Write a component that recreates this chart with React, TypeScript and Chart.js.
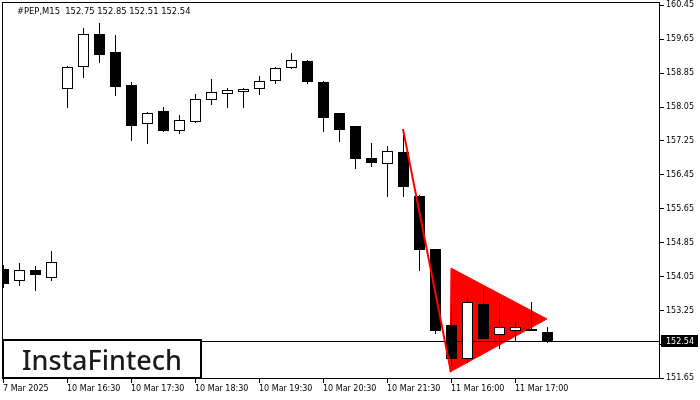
import React, { useEffect, useRef } from "react";
import { Chart, registerables } from "chart.js";

Chart.register(...registerables);

// ---- data ----
const chartTitle = "#PEP,M15  152.75 152.85 152.51 152.54";
const brandText = "InstaFintech";

const opens = [
  154.24, 153.98, 154.21, 154.05, 158.5, 159.01, 159.77, 159.34, 158.57, 157.67,
  157.96, 157.51, 157.72, 158.24, 158.38, 158.43, 158.5, 158.69, 158.99, 159.13,
  158.64, 157.91, 157.6, 156.85, 156.73, 156.99, 155.96, 154.69, 152.9, 152.12,
  153.41, 152.69, 152.8, 152.8, 152.75,
];
const highs = [
  154.33, 154.36, 154.31, 154.66, 159.01, 159.91, 160.03, 159.74, 158.64, 157.93,
  158.05, 157.86, 158.36, 158.71, 158.5, 158.49, 158.78, 158.99, 159.32, 159.15,
  158.66, 157.92, 157.61, 157.2, 157.13, 157.53, 155.97, 154.7, 153.41, 153.56,
  153.79, 153.46, 152.99, 153.44, 152.85,
];
const lows = [
  153.81, 153.84, 153.74, 153.98, 158.05, 158.76, 159.11, 158.33, 157.27, 157.2,
  157.49, 157.44, 157.7, 158.12, 158.05, 158.05, 158.36, 158.61, 158.98, 158.61,
  157.49, 157.25, 156.61, 156.66, 155.96, 155.96, 154.21, 152.71, 151.96, 152.03,
  152.6, 152.36, 152.52, 152.78, 152.51,
];
const closes = [
  153.91, 154.21, 154.1, 154.4, 158.99, 159.77, 159.3, 158.54, 157.63, 157.91,
  157.51, 157.74, 158.24, 158.4, 158.45, 158.47, 158.66, 158.97, 159.16, 158.66,
  157.81, 157.53, 156.85, 156.76, 157.01, 156.19, 154.71, 152.8, 152.14, 153.46,
  152.61, 152.85, 152.87, 152.81, 152.54,
];

const priceTicks = [
  151.65, 152.45, 153.25, 154.05, 154.85, 155.65, 156.45, 157.25, 158.05, 158.85,
  159.65, 160.45,
];
const timeTickIndex = [0, 4, 8, 12, 16, 20, 24, 28, 32];
const timeTickLabels = [
  "7 Mar 2025",
  "10 Mar 16:30",
  "10 Mar 17:30",
  "10 Mar 18:30",
  "10 Mar 19:30",
  "10 Mar 20:30",
  "10 Mar 21:30",
  "11 Mar 16:00",
  "11 Mar 17:00",
];
const currentPrice = 152.54;

// bearish pennant pattern: flagpole and pennant
const flagpoleX = [25, 28];
const flagpoleY = [157.53, 151.8];
const pennantX = [28, 34, 27.94, 28];
const pennantY = [154.25, 153.05, 151.8, 154.25];

// axis ranges
const xMin = -0.0625;
const xMax = 41.0625;
const yMin = 151.6335;
const yMax = 160.528;

const AXIS_FONT = "DejaVu Sans";

const candlePlugin = {
  id: "candles",
  afterDatasetDraw(chart: any, args: any) {
    if (args.index !== 1) return;
    const { ctx, chartArea } = chart;
    const xs = chart.scales.x;
    const ys = chart.scales.y;
    ctx.save();
    ctx.beginPath();
    ctx.rect(chartArea.left, chartArea.top, chartArea.right - chartArea.left, chartArea.bottom - chartArea.top);
    ctx.clip();
    // current price line
    const py = Math.round(ys.getPixelForValue(currentPrice));
    ctx.fillStyle = "#000";
    ctx.fillRect(chartArea.left, py, chartArea.right - chartArea.left, 1);
    for (let i = 0; i < opens.length; i++) {
      const cx = Math.round(xs.getPixelForValue(i));
      const yh = Math.round(ys.getPixelForValue(highs[i]));
      const yl = Math.round(ys.getPixelForValue(lows[i]));
      const yo = Math.round(ys.getPixelForValue(opens[i]));
      const yc = Math.round(ys.getPixelForValue(closes[i]));
      ctx.fillStyle = "#000";
      ctx.fillRect(cx, yh, 1, yl - yh + 1);
      const top = Math.min(yo, yc);
      const bot = Math.max(yo, yc);
      ctx.fillRect(cx - 5, top, 11, bot - top + 1);
      if (closes[i] >= opens[i] && bot - top >= 2) {
        ctx.fillStyle = "#fff";
        ctx.fillRect(cx - 4, top + 1, 9, bot - top - 1);
      }
    }
    ctx.restore();
  },
  afterDraw(chart: any) {
    const { ctx, chartArea } = chart;
    const ys = chart.scales.y;
    ctx.save();
    // frame
    ctx.strokeStyle = "#000";
    ctx.lineWidth = 1;
    ctx.strokeRect(chartArea.left + 0.5, chartArea.top + 0.5, chartArea.right - chartArea.left - 1, chartArea.bottom - chartArea.top - 1);
    // title
    ctx.fillStyle = "#000";
    ctx.font = `8.4px "${AXIS_FONT}"`;
    ctx.textAlign = "left";
    ctx.textBaseline = "alphabetic";
    ctx.fillText(chartTitle, 17, 14);
    // price label
    const py = Math.round(ys.getPixelForValue(currentPrice));
    ctx.fillStyle = "#000";
    ctx.fillRect(chartArea.right + 1, py - 6, 37, 12);
    ctx.fillStyle = "#fff";
    ctx.font = `8px "${AXIS_FONT}"`;
    ctx.textBaseline = "middle";
    ctx.fillText(currentPrice.toFixed(2), chartArea.right + 6, py + 0.5);
    // brand box
    ctx.fillStyle = "#fff";
    ctx.fillRect(3, 340, 198, 38);
    ctx.strokeStyle = "#000";
    ctx.lineWidth = 2;
    ctx.strokeRect(3, 340, 198, 38);
    ctx.fillStyle = "#1a1a1a";
    ctx.font = `500 27px "Noto Sans"`;
    ctx.textAlign = "center";
    ctx.textBaseline = "alphabetic";
    ctx.fillText(brandText, 102, 370);
    ctx.restore();
  },
};

export default function App() {
  const canvasRef = useRef<HTMLCanvasElement | null>(null);

  useEffect(() => {
    const canvas = canvasRef.current;
    if (!canvas) return;
    const chart = new Chart(canvas, {
      type: "line",
      data: {
        datasets: [
          {
            label: "flagpole",
            data: flagpoleX.map((x, i) => ({ x, y: flagpoleY[i] })),
            borderColor: "#ff0000",
            borderWidth: 2,
            pointRadius: 0,
            fill: false,
            tension: 0,
          },
          {
            label: "pennant",
            data: pennantX.map((x, i) => ({ x, y: pennantY[i] })),
            borderColor: "#ff0000",
            backgroundColor: "#ff0000",
            borderWidth: 1,
            pointRadius: 0,
            fill: "shape",
            tension: 0,
          },
        ],
      },
      options: {
        animation: false,
        responsive: false,
        maintainAspectRatio: false,
        events: [],
        layout: { padding: { left: 2, top: 2, right: 0, bottom: 0 } },
        plugins: { legend: { display: false }, tooltip: { enabled: false }, title: { display: false } },
        scales: {
          x: {
            type: "linear",
            position: "bottom",
            min: xMin,
            max: xMax,
            afterBuildTicks: (s: any) => {
              s.ticks = timeTickIndex.map((v) => ({ value: v }));
            },
            afterFit: (s: any) => {
              s.height = 21;
              s.paddingLeft = 0;
              s.paddingRight = 0;
            },
            ticks: {
              autoSkip: false,
              maxRotation: 0,
              minRotation: 0,
              align: "start",
              padding: 1,
              color: "#000",
              font: { family: AXIS_FONT, size: 8 },
              callback: (v: any) => {
                const k = timeTickIndex.indexOf(Number(v));
                return k >= 0 ? timeTickLabels[k] : "";
              },
            },
            grid: { drawOnChartArea: false, tickLength: 4, color: "#000", lineWidth: 1 },
            border: { display: false },
          },
          y: {
            type: "linear",
            position: "right",
            min: yMin,
            max: yMax,
            afterBuildTicks: (s: any) => {
              s.ticks = priceTicks.map((v) => ({ value: v }));
            },
            afterFit: (s: any) => {
              s.width = 40;
              s.paddingTop = 0;
              s.paddingBottom = 0;
            },
            ticks: {
              padding: 2,
              color: "#000",
              font: { family: AXIS_FONT, size: 8 },
              callback: (v: any) => Number(v).toFixed(2),
            },
            grid: { drawOnChartArea: false, tickLength: 4, color: "#000", lineWidth: 1 },
            border: { display: false },
          },
        },
      } as any,
      plugins: [candlePlugin],
    });
    return () => chart.destroy();
  }, []);

  return (
    <div style={{ position: "fixed", left: 0, top: 0, width: 700, height: 400, background: "#fff" }}>
      <canvas ref={canvasRef} width={700} height={400} style={{ display: "block", width: 700, height: 400 }} />
    </div>
  );
}
